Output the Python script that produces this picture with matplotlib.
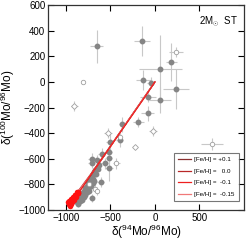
import matplotlib
matplotlib.use("Agg")
import matplotlib.pyplot as plt
import numpy as np

plt.rcParams['font.family'] = ['Liberation Sans', 'DejaVu Sans']
plt.rcParams['mathtext.fontset'] = 'custom'
plt.rcParams['mathtext.rm'] = 'Liberation Sans'
plt.rcParams['mathtext.it'] = 'Liberation Sans:italic'

# SiC grain data: filled (x, y, xerr, yerr)
filled_x = [-655, -140, 184, 59, -132, -48, 235, 55, -81, -81, -188, -368, -397, -508,
            -516, -600, -516, -563, -655, -710, -710, -516, -611, -710]
filled_y = [277, 319, 154, 104, 16, -5, -55, -141, -120, -246, -311, -332, -455, -468,
            -546, -559, -593, -637, -611, -598, -633, -672, -781, -904]
filled_xerr = [70, 90, 60, 240, 85, 40, 150, 120, 90, 75, 60, 40, 40, 40,
               30, 40, 30, 40, 40, 40, 40, 40, 40, 30]
filled_yerr = [130, 120, 150, 260, 80, 40, 155, 100, 40, 60, 40, 60, 50, 80,
               40, 40, 50, 40, 40, 40, 40, 100, 40, 30]

cluster_x = [-880, -860, -850, -840, -830, -820, -810, -800, -790, -780, -770, -760, -750,
             -745, -735, -725, -715, -705, -695, -690, -680, -670, -660, -650, -640, -630,
             -860, -840, -820, -800, -780, -760, -740, -720, -700, -680]
cluster_y = [-940, -925, -905, -890, -900, -870, -880, -850, -860, -830, -840, -810, -790,
             -820, -770, -780, -750, -740, -720, -760, -700, -690, -720, -670, -680, -650,
             -950, -930, -920, -900, -880, -860, -850, -810, -790, -770]

open_x = [-803, 235, 644, -434, -397, -673, -655, -736]
open_y = [2, 235, -486, -637, -429, -833, -852, -794]
open_xerr = [0, 80, 125, 40, 30, 30, 30, 30]
open_yerr = [0, 40, 45, 40, 30, 30, 30, 30]

diam_x = [-905, -22, -224, -527]
diam_y = [-188, -384, -512, -398]
diam_xerr = [40, 50, 0, 40]
diam_yerr = [40, 40, 0, 40]

# model lines
labels = ['[Fe/H] = +0.1', '[Fe/H] =   0.0', '[Fe/H] =  -0.1', '[Fe/H] =  -0.15']
colors = ['#8a3030', '#b82828', '#ee2020', '#f07878']
line_x = [
    [-960, -950, -935, -915, -890, -860, -700, -500, -300, -100, 0],
    [-975, -962, -945, -925, -900, -870, -705, -505, -300, -100, -5],
    [-955, -945, -930, -910, -885, -860, -700, -500, -300, -100, 0],
    [-970, -958, -940, -920, -895, -865, -700, -500, -300, -100, 0],
]
line_y = [
    [-955, -945, -930, -910, -890, -865, -710, -505, -300, -100, 0],
    [-940, -930, -915, -900, -880, -860, -705, -505, -300, -100, -5],
    [-965, -955, -940, -920, -895, -870, -705, -505, -305, -105, 0],
    [-950, -940, -925, -905, -885, -860, -705, -505, -300, -100, 0],
]

fig = plt.figure(figsize=(2.49, 2.40), dpi=100)
ax = fig.add_axes([0.193, 0.125, 0.787, 0.854])

gray = '#858585'
ecol = '#c8c8c8'
ax.errorbar(filled_x, filled_y, xerr=filled_xerr, yerr=filled_yerr, fmt='o', ms=3.2,
            color=gray, ecolor=ecol, elinewidth=0.8, capsize=0, zorder=2)
ax.errorbar(cluster_x, cluster_y, xerr=25, yerr=25, fmt='o', ms=3.2,
            color=gray, ecolor=ecol, elinewidth=0.6, capsize=0, zorder=2)
ax.errorbar(open_x, open_y, xerr=open_xerr, yerr=open_yerr, fmt='o', ms=3.2,
            mfc='white', mec='#a0a0a0', mew=0.6, ecolor=ecol, elinewidth=0.8, capsize=0, zorder=2)
ax.errorbar(diam_x, diam_y, xerr=diam_xerr, yerr=diam_yerr, fmt='D', ms=3.0,
            mfc='white', mec='#a0a0a0', mew=0.6, ecolor=ecol, elinewidth=0.8, capsize=0, zorder=2)

order = [0, 1, 3, 2]
handles = {}
for i in order:
    h, = ax.plot(line_x[i], line_y[i], color=colors[i], lw=0.9, zorder=3)
    ax.plot(line_x[i][:6], line_y[i][:6], 'o', color='#ff1010', ms=4, mew=0, zorder=3)
    handles[i] = h

leg = ax.legend([handles[i] for i in range(4)], labels, loc='lower right',
                bbox_to_anchor=(0.972, 0.045), fontsize=4.5, frameon=True, fancybox=False,
                edgecolor='#555555', handlelength=2.0, handletextpad=0.6,
                borderpad=0.6, labelspacing=1.0, borderaxespad=0)
leg.get_frame().set_linewidth(0.8)

ax.set_xlim(-1200, 1000)
ax.set_ylim(-1000, 600)
ax.set_xticks([-1000, -500, 0, 500])
ax.set_yticks([-1000, -800, -600, -400, -200, 0, 200, 400, 600])
ax.tick_params(direction='in', top=True, right=True, length=4, width=0.8, labelsize=7, pad=2)
for s in ax.spines.values():
    s.set_linewidth(0.9)
    s.set_color('#333333')

ax.set_xlabel('δ($^{94}$Mo/$^{96}$Mo)', fontsize=8.5, labelpad=0)
ax.set_ylabel('δ($^{100}$Mo/$^{96}$Mo)', fontsize=8.5, labelpad=0)
ax.yaxis.set_label_coords(-0.16, 0.5)
ax.text(0.97, 0.955, '2M$_{\\odot}$  ST', transform=ax.transAxes, ha='right', va='top', fontsize=7)

fig.savefig('out.png', dpi=100)
